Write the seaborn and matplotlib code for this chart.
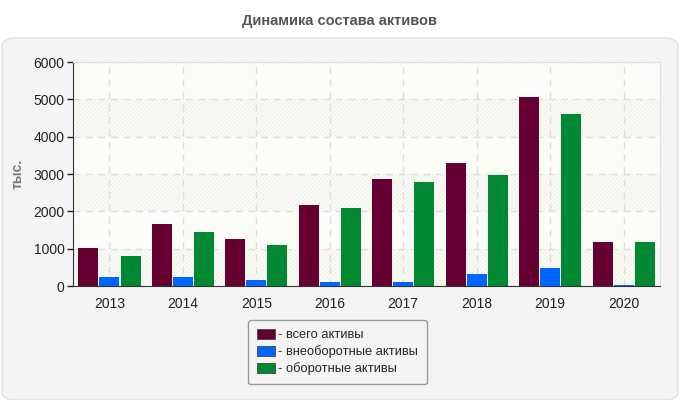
import seaborn as sns
import numpy as np
import pandas as pd
import matplotlib.pyplot as plt
from matplotlib.patches import FancyBboxPatch, Rectangle

years = ["2013", "2014", "2015", "2016", "2017", "2018", "2019", "2020"]
total_assets = [1020, 1660, 1260, 2170, 2870, 3300, 5060, 1180]
noncurrent_assets = [240, 240, 160, 110, 110, 320, 480, 25]
current_assets = [800, 1450, 1100, 2090, 2790, 2970, 4610, 1175]
series_names = ["- всего активы", "- внеоборотные активы", "- оборотные активы"]
colors = ["#660033", "#0066ff", "#008833"]

df = pd.DataFrame({
    "year": years * 3,
    "value": total_assets + noncurrent_assets + current_assets,
    "series": [series_names[0]] * 8 + [series_names[1]] * 8 + [series_names[2]] * 8,
})

sns.set_style("white")
plt.rcParams["font.family"] = ["Liberation Sans", "DejaVu Sans"]
plt.rcParams["hatch.linewidth"] = 0.8

fig = plt.figure(figsize=(6.8, 4), dpi=100)
fig.patch.set_facecolor("white")
# rounded gray panel behind the chart
panel = FancyBboxPatch((0.003, 0.0), 0.994, 0.905, boxstyle="round,pad=0,rounding_size=0.02",
                       transform=fig.transFigure, facecolor="#f4f4f4", edgecolor="#e2e2e2",
                       linewidth=1, zorder=-10)
fig.patches.append(panel)
fig.text(0.5, 0.948, "Динамика состава активов", ha="center", va="center",
         fontsize=10.5, fontweight="bold", color="#555555")

ax = fig.add_axes([0.107, 0.285, 0.864, 0.56])
ax.set_facecolor("#fcfcf6")

# alternating hatched bands
for lo in [0, 2000, 4000]:
    ax.add_patch(Rectangle((-0.5, lo), 8, 1000, facecolor="none", edgecolor="#efefea",
                           hatch="////////", linewidth=0, zorder=0))

sns.barplot(data=df, x="year", y="value", hue="series", palette=colors, width=0.86,
            gap=0.05, saturation=1, linewidth=0, ax=ax, zorder=2, legend=True)

ax.set_ylim(0, 6000)
ax.set_xlim(-0.5, 7.5)
ax.set_yticks(range(0, 6001, 1000))
ax.grid(True, color="#dddddd", linestyle=(0, (5, 4)), linewidth=1, zorder=1)
ax.set_axisbelow(True)
ax.set_xlabel("")
ax.set_ylabel("тыс.", fontsize=10, fontweight="bold", color="#777777", labelpad=6)
ax.tick_params(axis="both", labelsize=10, colors="#222222", length=4, width=1,
               direction="out", left=True, bottom=False)
ax.tick_params(axis="x", pad=4)
ax.tick_params(axis="y", pad=2)
for side in ["top", "right"]:
    ax.spines[side].set_color("#e0e0e0")
for side in ["left", "bottom"]:
    ax.spines[side].set_color("#333333")

handles, labels = ax.get_legend_handles_labels()
for h in handles:
    h.set_edgecolor("#444444")
    h.set_linewidth(0.6)
leg = ax.legend(handles, labels, loc="upper left", bbox_to_anchor=(0.365, 0.2),
                bbox_transform=fig.transFigure, borderaxespad=0, fontsize=9.3, frameon=True,
                handlelength=1.4, handleheight=0.8, handletextpad=0.2,
                borderpad=0.7, labelspacing=0.3, fancybox=True)
leg.get_frame().set_facecolor("#f4f4f4")
leg.get_frame().set_edgecolor("#999999")
leg.get_frame().set_alpha(1)

plt.savefig("out.png", dpi=100)
